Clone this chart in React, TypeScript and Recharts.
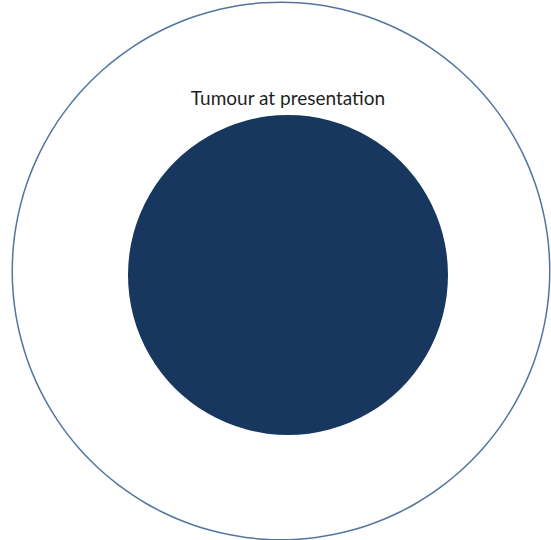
import { PieChart, Pie, Cell } from 'recharts'

// one slice per circle: the outer boundary and the tumour itself
const outerRing = [{ name: 'Boundary', value: 1 }]
const tumour = [{ name: 'Tumour at presentation', value: 1 }]

const renderTumourLabel = (props: any) => {
  const { cx, cy, outerRadius, name } = props
  return (
    <text
      x={cx}
      y={cy - outerRadius - 10}
      textAnchor="middle"
      fill="#1f1f1f"
      fontSize={19}
      fontFamily="Lato, 'Open Sans', sans-serif"
    >
      {name}
    </text>
  )
}

export default function App() {
  return (
    <div style={{ position: 'absolute', left: 0, top: 0, background: '#fff' }}>
      <PieChart width={551} height={540} margin={{ top: 0, right: 0, bottom: 0, left: 0 }}>
        <Pie
          data={outerRing}
          dataKey="value"
          cx={281}
          cy={271}
          innerRadius={268}
          outerRadius={269.5}
          startAngle={90}
          endAngle={-270}
          stroke="none"
          isAnimationActive={false}
        >
          <Cell fill="#52769f" />
        </Pie>
        <Pie
          data={tumour}
          dataKey="value"
          cx={288}
          cy={275}
          innerRadius={0}
          outerRadius={160}
          startAngle={90}
          endAngle={-270}
          stroke="none"
          label={renderTumourLabel}
          labelLine={false}
          isAnimationActive={false}
        >
          <Cell fill="#17375e" />
        </Pie>
      </PieChart>
    </div>
  )
}
